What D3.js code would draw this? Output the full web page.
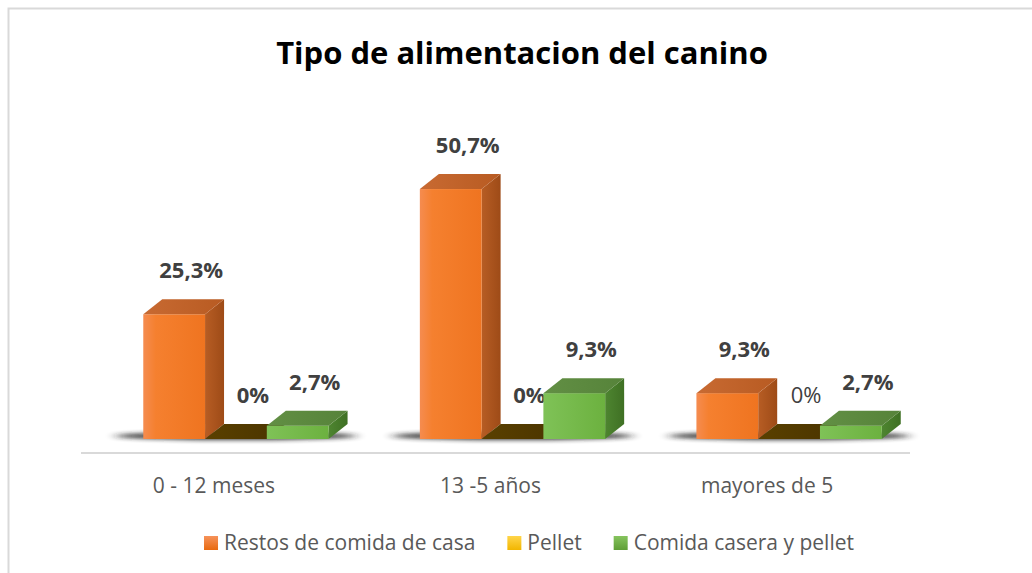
<!DOCTYPE html>
<html>
<head>
<meta charset="utf-8">
<script src="https://cdn.jsdelivr.net/npm/d3@7"></script>
<style>
  body { margin: 0; background: #fff; }
  svg { display: block; font-family: "Open Sans", "DejaVu Sans", sans-serif; }
</style>
</head>
<body>
<div id="chart"></div>
<script>
// data
var categories = ["0 - 12 meses", "13 -5 años", "mayores de 5"];
var seriesNames = ["Restos de comida de casa", "Pellet", "Comida casera y pellet"];
var restos = [25.3, 50.7, 9.3];
var pellet = [0, 0, 0];
var casera = [2.7, 9.3, 2.7];
var labelText = [["25,3%", "0%", "2,7%"], ["50,7%", "0%", "9,3%"], ["9,3%", "0%", "2,7%"]];

var width = 1032, height = 573;
var base = 439;          // front bottom edge of the bars
var depthX = 19, depthY = 15;

var svg = d3.select("#chart").append("svg")
    .attr("width", width)
    .attr("height", height);

var defs = svg.append("defs");

function hGrad(id, stops) {
  var g = defs.append("linearGradient").attr("id", id)
      .attr("x1", "0").attr("y1", "0").attr("x2", "1").attr("y2", "0");
  stops.forEach(function (s) { g.append("stop").attr("offset", s[0]).attr("stop-color", s[1]); });
}
function vGrad(id, stops) {
  var g = defs.append("linearGradient").attr("id", id)
      .attr("x1", "0").attr("y1", "0").attr("x2", "0").attr("y2", "1");
  stops.forEach(function (s) { g.append("stop").attr("offset", s[0]).attr("stop-color", s[1]); });
}

// faces: front / side / top for each series
hGrad("front0", [["0", "#f58c50"], ["0.2", "#f5802f"], ["1", "#ef7420"]]);
hGrad("side0",  [["0", "#b75d24"], ["1", "#9e4b17"]]);
hGrad("top0",   [["0", "#c86a32"], ["1", "#b85b22"]]);
hGrad("front1", [["0", "#ffcf3a"], ["1", "#f5b800"]]);
hGrad("side1",  [["0", "#8a6400"], ["1", "#705000"]]);
hGrad("top1",   [["0", "#5a4000"], ["1", "#4a3400"]]);
hGrad("front2", [["0", "#7fc257"], ["1", "#6cb13f"]]);
hGrad("side2",  [["0", "#4e8530"], ["1", "#3f7024"]]);
hGrad("top2",   [["0", "#628f44"], ["1", "#56833a"]]);

vGrad("leg0", [["0", "#f6925a"], ["1", "#e8690f"]]);
vGrad("leg1", [["0", "#ffd54a"], ["1", "#f2b600"]]);
vGrad("leg2", [["0", "#86c45e"], ["1", "#5f9e36"]]);

defs.append("filter").attr("id", "blur")
    .attr("x", "-50%").attr("y", "-300%").attr("width", "200%").attr("height", "700%")
  .append("feGaussianBlur").attr("stdDeviation", "6 2");

// chart frame (only top and left edges fall inside the picture)
svg.append("rect")
    .attr("x", 8.5).attr("y", 8.5)
    .attr("width", 1060).attr("height", 620)
    .attr("fill", "#fff")
    .attr("stroke", "#d9d9d9")
    .attr("stroke-width", 2);

var x0 = d3.scaleBand().domain(categories).range([52, 973]).padding(0.33);
var x1 = d3.scaleBand().domain(d3.range(seriesNames.length)).range([0, x0.bandwidth()]);
var y = d3.scaleLinear().domain([0, 60]).range([base, base - 60 * 4.93]);

var rows = categories.map(function (c, i) {
  return { cat: c, vals: [restos[i], pellet[i], casera[i]], labels: labelText[i] };
});

// title
svg.append("text")
    .attr("x", 522).attr("y", 64)
    .attr("text-anchor", "middle")
    .style("font-size", "31px")
    .style("font-weight", "bold")
    .attr("fill", "#000")
    .text("Tipo de alimentacion del canino");

// floor line
svg.append("line")
    .attr("x1", 81).attr("x2", 910)
    .attr("y1", 453).attr("y2", 453)
    .attr("stroke", "#d9d9d9")
    .attr("stroke-width", 2);

var group = svg.append("g").selectAll(".grp")
  .data(rows)
  .enter().append("g")
    .attr("class", "grp")
    .attr("transform", function (d) { return "translate(" + x0(d.cat) + ",0)"; });

// soft shadow under each group
group.append("ellipse")
    .attr("cx", x0.bandwidth() / 2)
    .attr("cy", base - 3)
    .attr("rx", x0.bandwidth() / 2 + 28)
    .attr("ry", 4)
    .attr("fill", "#222")
    .attr("opacity", 0.9)
    .attr("filter", "url(#blur)");

var bar = group.selectAll(".bar")
  .data(function (d) { return d.vals.map(function (v, k) { return { k: k, v: v, lab: d.labels[k], cat: d.cat }; }); })
  .enter().append("g")
    .attr("class", "bar");

var bw = x1.bandwidth();

// side face
bar.append("path")
    .attr("fill", function (d) { return "url(#side" + d.k + ")"; })
    .attr("d", function (d) {
      var xr = x1(d.k) + bw, t = y(d.v);
      return "M" + xr + "," + t + "L" + (xr + depthX) + "," + (t - depthY) +
             "L" + (xr + depthX) + "," + (base - depthY) + "L" + xr + "," + base + "Z";
    });

// front face
bar.append("rect")
    .attr("x", function (d) { return x1(d.k); })
    .attr("y", function (d) { return y(d.v); })
    .attr("width", bw)
    .attr("height", function (d) { return base - y(d.v); })
    .attr("fill", function (d) { return "url(#front" + d.k + ")"; });

// top face
bar.append("path")
    .attr("fill", function (d) { return "url(#top" + d.k + ")"; })
    .attr("d", function (d) {
      var xl = x1(d.k), t = y(d.v);
      return "M" + xl + "," + t + "L" + (xl + depthX) + "," + (t - depthY) +
             "L" + (xl + bw + depthX) + "," + (t - depthY) + "L" + (xl + bw) + "," + t + "Z";
    });

// data labels
bar.append("text")
    .attr("x", function (d) { return x1(d.k) + bw / 2 + 17; })
    .attr("y", function (d) { return y(d.v) - 36; })
    .attr("text-anchor", "middle")
    .style("font-size", "22px")
    .style("font-weight", function (d) { return (d.v === 0 && d.cat === "mayores de 5") ? "normal" : "bold"; })
    .attr("fill", "#404040")
    .text(function (d) { return d.lab; });

// category labels
svg.append("g").selectAll(".cat")
  .data(categories)
  .enter().append("text")
    .attr("class", "cat")
    .attr("x", function (d) { return x0(d) + x0.bandwidth() / 2 - 22; })
    .attr("y", 493)
    .attr("text-anchor", "middle")
    .style("font-size", "21px")
    .attr("fill", "#595959")
    .text(function (d) { return d; });

// legend
var legend = svg.append("g");
var item = legend.selectAll(".leg")
  .data(seriesNames)
  .enter().append("g")
    .attr("class", "leg");
item.append("rect")
    .attr("width", 14).attr("height", 14)
    .attr("y", 536)
    .attr("fill", function (d, i) { return "url(#leg" + i + ")"; });
item.append("text")
    .attr("x", 20)
    .attr("y", 550)
    .style("font-size", "21px")
    .attr("fill", "#595959")
    .text(function (d) { return d; });

var xpos = 0, gap = 32;
item.each(function () {
  var g = d3.select(this);
  var w = 20 + g.select("text").node().getComputedTextLength();
  g.attr("data-x", xpos);
  xpos += w + gap;
});
var total = xpos - gap;
var start = 529 - total / 2;
item.attr("transform", function () { return "translate(" + (start + (+d3.select(this).attr("data-x"))) + ",0)"; });
</script>
</body>
</html>
